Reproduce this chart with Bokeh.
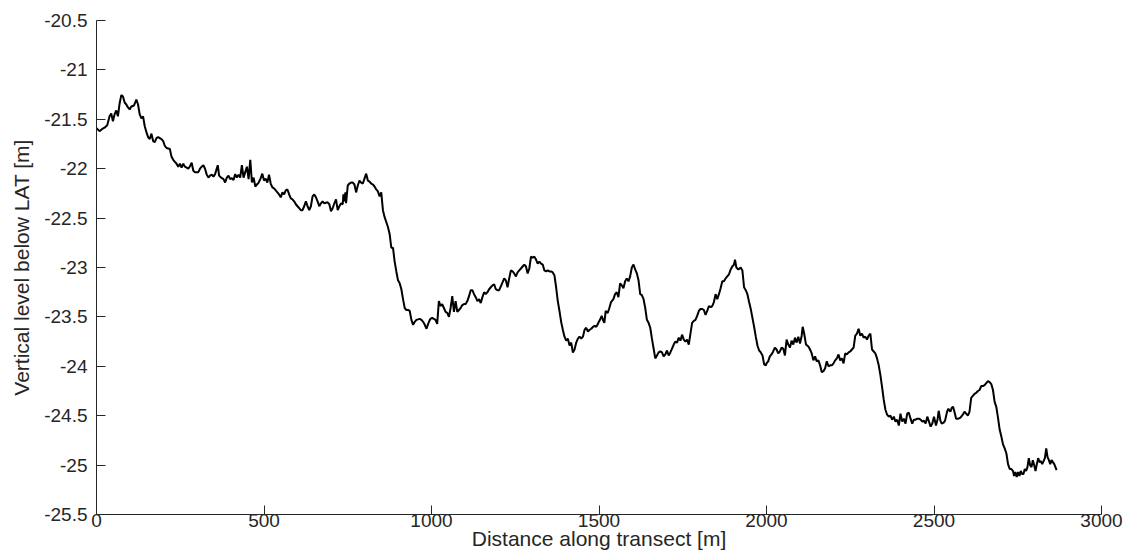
from bokeh.plotting import figure
from bokeh.models import Range1d, FixedTicker
from bokeh.embed import file_html
from bokeh.resources import INLINE

# ---- data (distance along transect [m], level [m]) ----
dist_a = [0, 9, 16, 24, 32, 39, 44, 49, 54, 59, 64, 69, 74, 79, 84, 89, 94, 99, 104, 112,
          119, 124, 129, 134, 139, 144, 149, 154, 159, 164, 169, 174, 179, 184, 194, 199, 204, 209, 219, 224,
          229, 234, 239, 244, 249, 254, 259, 264, 274, 279, 284, 289, 294, 304, 309, 314, 319, 324, 329, 334,
          339, 344, 349, 354, 362, 366, 372, 379, 384, 389, 394, 399, 404, 409, 414, 419, 424, 429, 434, 439,
          444, 449, 454, 459, 464, 469, 474, 479, 484, 489]
level_a = [-21.59, -21.62, -21.60, -21.585, -21.56, -21.47, -21.44, -21.52, -21.45, -21.41, -21.47, -21.34, -21.255, -21.27, -21.33, -21.35, -21.38, -21.40, -21.37, -21.36,
           -21.30, -21.35, -21.45, -21.49, -21.47, -21.57, -21.63, -21.68, -21.70, -21.645, -21.72, -21.73, -21.69, -21.68, -21.70, -21.72, -21.77, -21.79, -21.80, -21.88,
           -21.91, -21.93, -21.95, -21.98, -21.95, -21.99, -21.95, -21.98, -22.0, -21.975, -21.94, -22.02, -22.035, -22.035, -22.0, -21.98, -21.965, -22.0, -22.06, -22.09,
           -22.07, -22.06, -22.08, -22.055, -21.965, -22.07, -22.09, -22.105, -22.14, -22.09, -22.07, -22.105, -22.095, -22.115, -22.055, -22.09, -22.06, -22.09, -21.965, -22.09,
           -22.035, -21.98, -22.105, -21.91, -22.14, -22.09, -22.18, -22.16, -22.14, -22.105]

dist_b = [495, 500, 505, 510, 515, 520, 525, 530, 535, 540, 545, 550, 555, 560, 565, 570, 575, 580, 585, 590,
          595, 600, 605, 610, 615, 620, 625, 630, 635, 640, 645, 650, 655, 660, 665, 670, 675, 680, 690, 695,
          700, 705, 710, 715, 720, 725, 730, 735, 737, 740, 743, 745, 750, 755, 760, 765, 770, 775, 780, 785,
          790, 795, 800, 805, 810, 815, 820, 825, 830, 835, 840, 845, 850, 855, 860, 865, 870, 875, 880, 885,
          890, 895, 900, 905, 910, 915, 920, 925, 930, 935, 940, 945, 950, 955, 965, 970, 975, 980, 985, 990, 995]
level_b = [-22.05, -22.12, -22.10, -22.14, -22.06, -22.15, -22.19, -22.20, -22.22, -22.24, -22.26, -22.29, -22.24, -22.26, -22.22, -22.21, -22.26, -22.30, -22.31, -22.33,
           -22.36, -22.38, -22.40, -22.42, -22.42, -22.38, -22.33, -22.38, -22.42, -22.38, -22.28, -22.26, -22.29, -22.33, -22.38, -22.35, -22.33, -22.35, -22.34, -22.36,
           -22.43, -22.40, -22.35, -22.31, -22.42, -22.38, -22.35, -22.36, -22.26, -22.33, -22.24, -22.35, -22.17, -22.15, -22.14, -22.14, -22.16, -22.24, -22.17, -22.12,
           -22.14, -22.15, -22.10, -22.05, -22.12, -22.13, -22.15, -22.16, -22.18, -22.21, -22.23, -22.28, -22.24, -22.42, -22.49, -22.54, -22.59, -22.66, -22.80, -22.80,
           -22.94, -23.04, -23.13, -23.16, -23.22, -23.32, -23.41, -23.43, -23.43, -23.44, -23.53, -23.58, -23.55, -23.53, -23.52, -23.53, -23.55, -23.58, -23.62, -23.57, -23.53]

dist_c = [997, 1002, 1007, 1012, 1017, 1022, 1027, 1032, 1037, 1042, 1047, 1052, 1057, 1062, 1067, 1072, 1077, 1082, 1087, 1092,
          1097, 1102, 1107, 1112, 1117, 1122, 1127, 1132, 1137, 1142, 1147, 1152, 1157, 1162, 1167, 1172, 1177, 1182, 1187, 1192,
          1197, 1202, 1207, 1212, 1217, 1222, 1227, 1232, 1237, 1242, 1247, 1252, 1257, 1262, 1267, 1272, 1277, 1282, 1287, 1292,
          1297, 1302, 1307, 1312, 1317, 1322, 1327, 1332, 1337, 1342, 1347, 1352, 1357, 1362, 1367, 1372, 1377, 1382, 1387, 1392,
          1397, 1402, 1407, 1412, 1417, 1422, 1427, 1432, 1437, 1442, 1447, 1452, 1457, 1462, 1467, 1472, 1477, 1482, 1487, 1492, 1497]
level_c = [-23.52, -23.51, -23.52, -23.53, -23.57, -23.34, -23.39, -23.37, -23.41, -23.45, -23.46, -23.50, -23.41, -23.29, -23.45, -23.34, -23.45, -23.43, -23.41, -23.38,
           -23.37, -23.37, -23.34, -23.29, -23.23, -23.23, -23.27, -23.30, -23.34, -23.32, -23.36, -23.30, -23.25, -23.27, -23.25, -23.22, -23.20, -23.18, -23.17, -23.22,
           -23.23, -23.23, -23.19, -23.15, -23.11, -23.13, -23.20, -23.11, -23.03, -23.04, -23.06, -23.09, -23.05, -23.03, -23.01, -22.99, -22.97, -22.99, -23.06, -23.01,
           -22.89, -22.90, -22.89, -22.92, -22.96, -22.94, -22.96, -22.97, -23.03, -23.04, -23.03, -23.04, -23.04, -23.05, -23.08, -23.20, -23.34, -23.44, -23.55, -23.63,
           -23.70, -23.74, -23.72, -23.79, -23.76, -23.86, -23.83, -23.76, -23.72, -23.70, -23.72, -23.70, -23.63, -23.61, -23.65, -23.63, -23.62, -23.60, -23.59, -23.60, -23.57]

dist_d = [1498, 1503, 1508, 1513, 1516, 1520, 1526, 1530, 1536, 1543, 1548, 1553, 1558, 1563, 1568, 1573, 1578, 1583, 1588, 1593,
          1598, 1603, 1608, 1613, 1618, 1623, 1628, 1633, 1638, 1643, 1648, 1653, 1658, 1663, 1668, 1673, 1678, 1683, 1688, 1693,
          1698, 1703, 1708, 1713, 1718, 1723, 1728, 1733, 1738, 1743, 1748, 1753, 1758, 1763, 1768, 1773, 1778, 1783, 1788, 1793,
          1798, 1803, 1808, 1813, 1818, 1823, 1828, 1833, 1838, 1843, 1848, 1853, 1858, 1863, 1868, 1873, 1878, 1883, 1888, 1893,
          1898, 1903, 1906, 1910, 1916, 1923, 1928, 1933, 1938, 1943, 1948, 1953, 1958, 1963, 1968, 1973, 1978, 1983, 1988, 1993, 1998]
level_d = [-23.56, -23.53, -23.49, -23.54, -23.56, -23.44, -23.46, -23.42, -23.35, -23.32, -23.27, -23.25, -23.30, -23.16, -23.18, -23.21, -23.14, -23.11, -23.14, -23.09,
           -23.00, -22.97, -23.02, -23.06, -23.13, -23.27, -23.28, -23.32, -23.41, -23.53, -23.56, -23.61, -23.72, -23.82, -23.92, -23.89, -23.86, -23.85, -23.86, -23.90,
           -23.88, -23.84, -23.89, -23.86, -23.82, -23.78, -23.75, -23.76, -23.71, -23.74, -23.68, -23.73, -23.75, -23.73, -23.78, -23.67, -23.56, -23.54, -23.53, -23.49,
           -23.44, -23.42, -23.42, -23.43, -23.48, -23.44, -23.39, -23.40, -23.39, -23.35, -23.27, -23.32, -23.27, -23.21, -23.14, -23.14, -23.11, -23.09, -23.07, -23.02,
           -22.99, -22.97, -22.92, -23.00, -23.02, -23.00, -23.03, -23.20, -23.23, -23.27, -23.35, -23.42, -23.51, -23.60, -23.70, -23.79, -23.84, -23.86, -23.89, -23.98, -23.99]

dist_e = [2000, 2005, 2010, 2015, 2020, 2025, 2030, 2035, 2040, 2045, 2050, 2055, 2060, 2065, 2070, 2075, 2080, 2085, 2090, 2095,
          2100, 2105, 2108, 2112, 2118, 2125, 2130, 2135, 2140, 2145, 2150, 2155, 2160, 2165, 2170, 2175, 2180, 2185, 2190, 2195,
          2200, 2205, 2210, 2215, 2220, 2225, 2230, 2235, 2240, 2245, 2250, 2255, 2260, 2265, 2270, 2275, 2280, 2285, 2290, 2295,
          2300, 2305, 2310, 2315, 2320, 2325, 2330, 2335, 2340, 2345, 2350, 2355, 2360, 2365, 2370, 2375, 2380, 2385, 2390, 2395,
          2400, 2405, 2410, 2415, 2420, 2425, 2430, 2435, 2440, 2445, 2450, 2455, 2460, 2465, 2470, 2475, 2480, 2485, 2490, 2495, 2500]
level_e = [-23.97, -23.95, -23.90, -23.88, -23.85, -23.81, -23.83, -23.87, -23.85, -23.81, -23.82, -23.89, -23.73, -23.78, -23.81, -23.74, -23.78, -23.71, -23.76, -23.70,
           -23.77, -23.69, -23.60, -23.66, -23.78, -23.80, -23.83, -23.87, -23.94, -23.90, -23.95, -23.94, -23.99, -24.06, -24.05, -24.02, -23.95, -24.00, -23.99, -23.99,
           -23.97, -23.94, -23.92, -23.88, -23.94, -23.92, -23.97, -23.87, -23.88, -23.86, -23.85, -23.83, -23.81, -23.69, -23.67, -23.62, -23.69, -23.67, -23.71, -23.70,
           -23.73, -23.69, -23.67, -23.83, -23.85, -23.87, -23.92, -23.99, -24.09, -24.21, -24.34, -24.44, -24.49, -24.51, -24.50, -24.54, -24.51, -24.56, -24.54, -24.60,
           -24.48, -24.56, -24.53, -24.58, -24.48, -24.47, -24.53, -24.58, -24.54, -24.54, -24.53, -24.53, -24.54, -24.56, -24.55, -24.58, -24.51, -24.56, -24.61, -24.58, -24.51]

dist_f = [2506, 2511, 2514, 2519, 2523, 2529, 2533, 2539, 2543, 2549, 2553, 2557, 2561, 2566, 2573, 2579, 2586, 2591, 2596, 2601,
          2606, 2611, 2616, 2621, 2626, 2631, 2636, 2641, 2646, 2651, 2656, 2661, 2666, 2671, 2676, 2681, 2686, 2691, 2696, 2701,
          2706, 2711, 2716, 2721, 2726, 2731, 2736, 2739, 2743, 2747, 2751, 2755, 2759, 2763, 2767, 2771, 2775, 2779, 2783, 2787,
          2791, 2795, 2799, 2803, 2807, 2811, 2815, 2819, 2823, 2827, 2831, 2835, 2839, 2843, 2847, 2851, 2855, 2859, 2866]
level_f = [-24.60, -24.53, -24.45, -24.55, -24.58, -24.57, -24.55, -24.46, -24.43, -24.46, -24.42, -24.41, -24.46, -24.53, -24.53, -24.52, -24.49, -24.46, -24.48, -24.50,
           -24.46, -24.32, -24.30, -24.28, -24.27, -24.25, -24.24, -24.20, -24.20, -24.19, -24.17, -24.15, -24.16, -24.18, -24.24, -24.36, -24.41, -24.52, -24.64, -24.71,
           -24.79, -24.83, -24.88, -24.99, -25.04, -25.04, -25.06, -25.11, -25.07, -25.12, -25.07, -25.11, -25.06, -25.09, -25.09, -25.04, -25.06, -25.02, -24.93, -25.00,
           -25.02, -24.95, -25.00, -25.06, -24.99, -24.93, -24.97, -24.96, -24.99, -24.96, -24.93, -24.83, -24.92, -24.95, -24.99, -24.95, -24.97, -24.99, -25.05]

distance = dist_a + dist_b + dist_c + dist_d + dist_e + dist_f
level = level_a + level_b + level_c + level_d + level_e + level_f

x_ticks = [0, 500, 1000, 1500, 2000, 2500, 3000]
y_ticks = [-20.5, -21, -21.5, -22, -22.5, -23, -23.5, -24, -24.5, -25, -25.5]
y_tick_labels = ["-20.5", "-21", "-21.5", "-22", "-22.5", "-23", "-23.5", "-24", "-24.5", "-25", "-25.5"]

FONT = "Liberation Sans"
AX = "#262626"

p = figure(width=1127, height=552, output_backend="svg", toolbar_location=None,
           x_range=Range1d(0, 3000), y_range=Range1d(-25.5, -20.5),
           min_border_left=96, min_border_right=26, min_border_top=20, min_border_bottom=35,
           background_fill_color="white", border_fill_color="white")
p.outline_line_color = None
p.grid.visible = False

p.line(distance, level, line_color="black", line_width=2)

for ax in (p.xaxis[0], p.yaxis[0]):
    ax.axis_line_color = AX
    ax.major_tick_line_color = AX
    ax.major_tick_in = 9
    ax.major_tick_out = 0
    ax.minor_tick_line_color = None
    ax.major_label_text_font = FONT
    ax.major_label_text_font_size = "19px"
    ax.major_label_text_color = AX
    ax.axis_label_text_font = FONT
    ax.axis_label_text_font_size = "21px"
    ax.axis_label_text_font_style = "normal"
    ax.axis_label_text_color = AX

p.xaxis.ticker = FixedTicker(ticks=x_ticks)
p.yaxis.ticker = FixedTicker(ticks=y_ticks)
p.yaxis.major_label_overrides = {t: s for t, s in zip(y_ticks, y_tick_labels)}
p.xaxis.axis_label = "Distance along transect [m]"
p.yaxis.axis_label = "Vertical level below LAT [m]"
p.xaxis.major_label_standoff = -1
p.xaxis.axis_label_standoff = -3
p.yaxis.major_label_standoff = 9
p.yaxis.axis_label_standoff = 8

open("out.html", "w").write(file_html(p, INLINE))
